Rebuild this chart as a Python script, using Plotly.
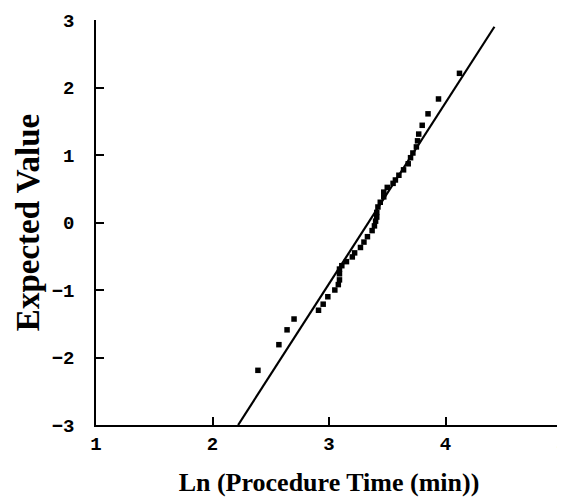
import plotly.graph_objects as go

# Observed ln(procedure time) vs. expected normal value
ln_time = [2.39, 2.57, 2.64, 2.70, 2.91, 2.95, 2.99, 3.05, 3.08, 3.09, 3.09, 3.09,
           3.11, 3.15, 3.20, 3.22, 3.27, 3.30, 3.33, 3.37, 3.39, 3.40, 3.41, 3.41,
           3.42, 3.44, 3.47, 3.47, 3.50, 3.55, 3.57, 3.60, 3.64, 3.68, 3.70, 3.72,
           3.75, 3.76, 3.77, 3.80, 3.85, 3.94, 4.12]
expected = [-2.19, -1.81, -1.59, -1.43, -1.30, -1.21, -1.10, -1.00, -0.92, -0.85, -0.76, -0.69,
            -0.64, -0.58, -0.51, -0.45, -0.37, -0.29, -0.21, -0.12, -0.05, 0.02, 0.08, 0.15,
            0.23, 0.30, 0.38, 0.45, 0.52, 0.58, 0.63, 0.70, 0.78, 0.87, 0.96, 1.03,
            1.12, 1.21, 1.31, 1.44, 1.61, 1.83, 2.21]

# Reference (fitted normal) line
line_x = [2.22, 4.42]
line_y = [-3.0, 2.9]

x_ticks = [1, 2, 3, 4, 5]
y_ticks = [-3, -2, -1, 0, 1, 2, 3]

fig = go.Figure()
fig.add_trace(go.Scatter(x=line_x, y=line_y, mode="lines",
                         line=dict(color="black", width=2.2), showlegend=False,
                         cliponaxis=False))
fig.add_trace(go.Scatter(x=ln_time, y=expected, mode="markers",
                         marker=dict(symbol="square", size=5.5, color="black"),
                         showlegend=False))

tickfont = dict(family="Liberation Mono", size=19, color="black", weight="bold")

# page body has an 8px margin, so the figure is sized/offset to compensate
fig.update_layout(
    width=557, height=489,
    margin=dict(l=88, r=3, t=12, b=72),
    paper_bgcolor="white", plot_bgcolor="white",
    xaxis=dict(range=[1, 5], tickvals=x_ticks, ticks="inside", ticklen=8,
               tickwidth=1.5, tickcolor="black", showline=True, linecolor="black",
               linewidth=1.5, showgrid=False, zeroline=False, tickfont=tickfont,
               automargin=False,
               ticklabelstandoff=0, ticklabeloverflow="allow",
               title=dict(text="Ln (Procedure Time (min))",
                          font=dict(family="Liberation Serif", size=26, color="black", weight="bold"),
                          standoff=18)),
    yaxis=dict(range=[-3, 3], tickvals=y_ticks, ticks="inside", ticklen=8,
               tickwidth=1.5, tickcolor="black", showline=True, linecolor="black",
               linewidth=1.5, showgrid=False, zeroline=False, tickfont=tickfont,
               automargin=False,
               ticklabelstandoff=16,
               title=dict(text="Expected Value",
                          font=dict(family="Liberation Serif", size=33, color="black", weight="bold"),
                          standoff=2)),
)

fig.write_html("out.html")
